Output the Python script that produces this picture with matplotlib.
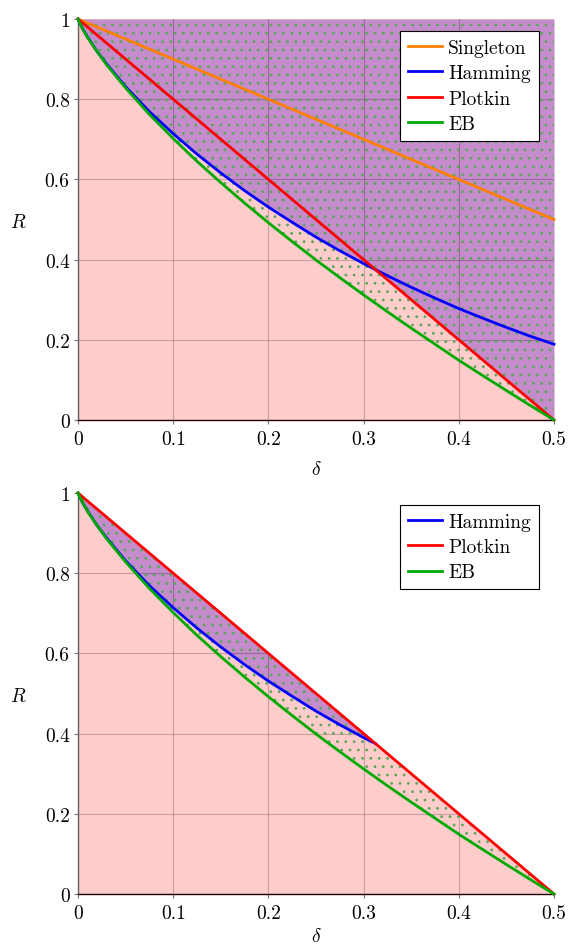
import numpy as np
import matplotlib
matplotlib.use("Agg")
import matplotlib.pyplot as plt

plt.rcParams['font.family'] = 'serif'
plt.rcParams['font.serif'] = ['cmr10', 'DejaVu Serif']
plt.rcParams['mathtext.fontset'] = 'cm'
plt.rcParams['axes.formatter.use_mathtext'] = True
plt.rcParams['hatch.linewidth'] = 0.8

# ---- data ----
delta = [0.0, 0.001, 0.005, 0.01, 0.02, 0.03, 0.05, 0.075, 0.1, 0.125, 0.15, 0.175,
         0.2, 0.225, 0.25, 0.275, 0.3, 0.325, 0.35, 0.375, 0.4, 0.425, 0.45, 0.475, 0.5]
hamming = [1.0, 0.994, 0.975, 0.955, 0.919, 0.888, 0.831, 0.769, 0.714, 0.663, 0.616, 0.572,
           0.531, 0.493, 0.456, 0.422, 0.390, 0.360, 0.331, 0.304, 0.278, 0.254, 0.231, 0.209, 0.189]
eb = [1.0, 0.994, 0.975, 0.954, 0.919, 0.886, 0.828, 0.762, 0.702, 0.645, 0.592, 0.541,
      0.492, 0.445, 0.399, 0.355, 0.312, 0.270, 0.229, 0.189, 0.149, 0.111, 0.0735, 0.0363, 0.0]
singleton_delta = [0.0, 0.5]
singleton_R = [1.0, 0.5]
plotkin_delta = [0.0, 0.5]
plotkin_R = [1.0, 0.0]

xticks = [0, 0.1, 0.2, 0.3, 0.4, 0.5]
xticklabels = ['0', '0.1', '0.2', '0.3', '0.4', '0.5']
yticks = [0, 0.2, 0.4, 0.6, 0.8, 1.0]
yticklabels = ['0', '0.2', '0.4', '0.6', '0.8', '1']

# ---- styles ----
PINK = '#ffcccc'
PURPLE = '#c48cca'
DOTS = '#5aa65a'
C_SING = '#ff8000'
C_HAM = '#0000ff'
C_PLOT = '#ff0000'
C_EB = '#00aa00'
FS = 14
LW = 2.0

d = np.array(delta)
ham = np.array(hamming)
ebv = np.array(eb)
plk = np.interp(d, plotkin_delta, plotkin_R)
one = np.ones_like(d)

fig = plt.figure(figsize=(5.68, 9.45), dpi=100)
ax1 = fig.add_axes([78/568, 1-421/945, 476/568, 401/945])
ax2 = fig.add_axes([78/568, 1-895/945, 476/568, 401/945])


def style(ax, xlab_y):
    ax.set_xlim(0, 0.5)
    ax.set_ylim(0, 1)
    ax.set_xticks(xticks)
    ax.set_xticklabels(xticklabels)
    ax.set_yticks(yticks)
    ax.set_yticklabels(yticklabels)
    ax.tick_params(direction='out', length=3, color='#777777', labelsize=FS)
    ax.tick_params(axis='x', pad=4)
    ax.tick_params(axis='y', pad=3)
    for s in ['top', 'right']:
        ax.spines[s].set_visible(False)
    ax.spines['left'].set_color('#606060')
    ax.spines['left'].set_linewidth(1.0)
    ax.spines['bottom'].set_color('#200000')
    ax.spines['bottom'].set_linewidth(1.0)
    ax.set_xlabel(r'$\delta$', fontsize=FS)
    ax.set_ylabel(r'$R$', fontsize=FS, rotation=0, va='center', ha='center')
    ax.yaxis.set_label_coords(-0.125, 0.495)
    ax.xaxis.set_label_coords(0.5, xlab_y)


def gridlines(ax, clip_poly):
    path = clip_poly.get_paths()[0]
    for x in xticks[1:-1]:
        ln, = ax.plot([x, x], [0, 1], color='black', alpha=0.22, lw=0.8, zorder=1.6)
        ln.set_clip_path(path, ax.transData)
    for y in yticks[1:-1]:
        ln, = ax.plot([0, 0.5], [y, y], color='black', alpha=0.22, lw=0.8, zorder=1.6)
        ln.set_clip_path(path, ax.transData)


# ---------- top ----------
style(ax1, -0.1)
pink1 = ax1.fill_between(d, 0, one, color=PINK, lw=0, zorder=1)
upper1 = np.minimum(ham, plk)
ax1.fill_between(d, upper1, one, color=PURPLE, lw=0, zorder=1.2)
gridlines(ax1, pink1)
ax1.fill_between(d, ebv, one, facecolor='none', edgecolor=DOTS, hatch='..', lw=0, zorder=1.8)
ax1.plot(singleton_delta, singleton_R, color=C_SING, lw=LW, label='Singleton', zorder=3, clip_on=False)
ax1.plot(d, ham, color=C_HAM, lw=LW, label='Hamming', zorder=3, clip_on=False)
ax1.plot(plotkin_delta, plotkin_R, color=C_PLOT, lw=LW, label='Plotkin', zorder=3, clip_on=False)
ax1.plot(d, ebv, color=C_EB, lw=LW, label='EB', zorder=3, clip_on=False)

# ---------- bottom ----------
style(ax2, -0.082)
pink2 = ax2.fill_between(d, 0, plk, color=PINK, lw=0, zorder=1)
# Hamming up to its crossing with Plotkin
diff = ham - plk
k = np.argmax(diff > 0)
t = -diff[k-1] / (diff[k] - diff[k-1])
dx = d[k-1] + t * (d[k] - d[k-1])
hx = ham[k-1] + t * (ham[k] - ham[k-1])
d_h = np.append(d[:k], dx)
h_h = np.append(ham[:k], hx)
p_h = np.interp(d_h, plotkin_delta, plotkin_R)
ax2.fill_between(d_h, h_h, p_h, color=PURPLE, lw=0, zorder=1.2)
gridlines(ax2, pink2)
ax2.fill_between(d, ebv, plk, facecolor='none', edgecolor=DOTS, hatch='..', lw=0, zorder=1.8)
ax2.plot(d_h, h_h, color=C_HAM, lw=LW, label='Hamming', zorder=3, clip_on=False)
ax2.plot(plotkin_delta, plotkin_R, color=C_PLOT, lw=LW, label='Plotkin', zorder=3, clip_on=False)
ax2.plot(d, ebv, color=C_EB, lw=LW, label='EB', zorder=3, clip_on=False)

for ax in (ax1, ax2):
    leg = ax.legend(loc='upper right', bbox_to_anchor=(0.968, 0.97), borderaxespad=0,
                    fontsize=FS, frameon=True, fancybox=False, framealpha=1,
                    edgecolor='black', handlelength=1.75, labelspacing=0.38,
                    handletextpad=0.35, borderpad=0.4)
    leg.get_frame().set_linewidth(0.8)
    leg.set_zorder(5)

fig.savefig('out.png', dpi=100)
